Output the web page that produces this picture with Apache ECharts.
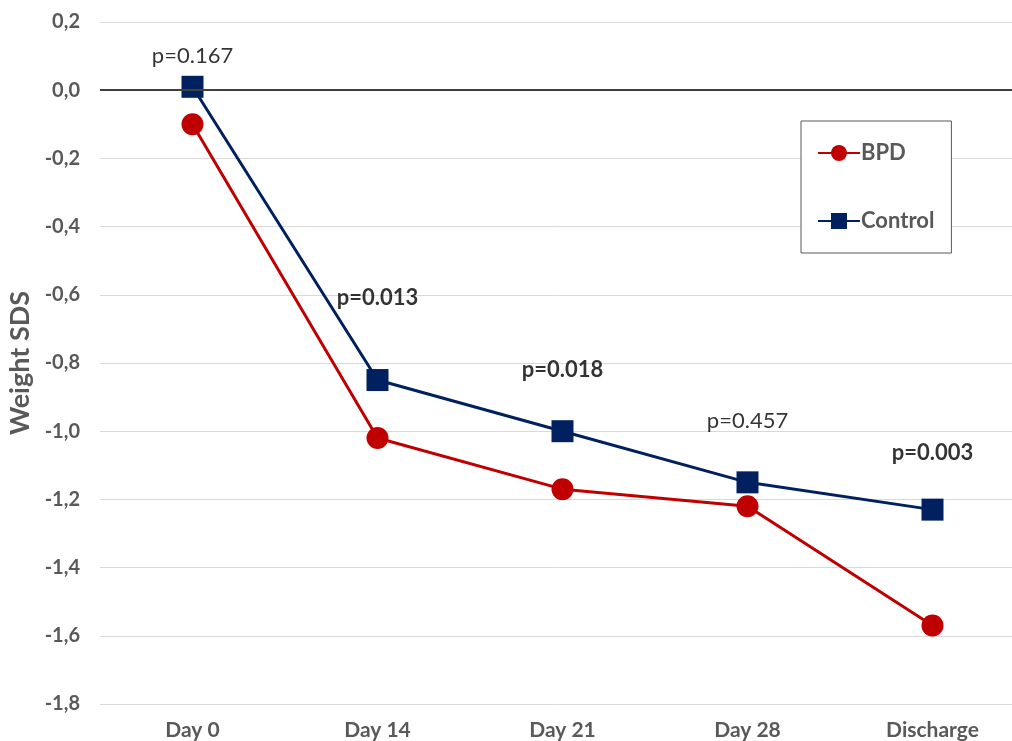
<!DOCTYPE html>
<html>
<head>
<meta charset="utf-8">
<script src="https://cdn.jsdelivr.net/npm/echarts@6/dist/echarts.min.js"></script>
<style>html,body{margin:0;padding:0;background:#fff}#c{width:1012px;height:741px}</style>
</head>
<body>
<div id="c"></div>
<script>
const categories = ['Day 0', 'Day 14', 'Day 21', 'Day 28', 'Discharge'];
const bpd = [-0.10, -1.02, -1.17, -1.22, -1.57];
const control = [0.01, -0.85, -1.00, -1.15, -1.23];
const pLabels = ['p=0.167', 'p=0.013', 'p=0.018', 'p=0.457', 'p=0.003'];
const pBold = [false, true, true, false, true];
const pLabelY = [0.10, -0.61, -0.82, -0.97, -1.065];
const yTicks = { min: -1.8, max: 0.2, interval: 0.2 };

const FONT = 'Lato';
const chart = echarts.init(document.getElementById('c'), null, { renderer: 'canvas' });
chart.setOption({
  animation: false,
  backgroundColor: '#fff',
  grid: { left: 100, right: -13, top: 22, bottom: 37, outerBoundsMode: 'none', containLabel: false },
  xAxis: {
    type: 'category',
    data: categories,
    boundaryGap: true,
    axisLine: { show: true, lineStyle: { color: '#d9d9d9', width: 1 } },
    axisTick: { show: false },
    axisLabel: { margin: 16, fontFamily: FONT, fontWeight: 'bold', fontSize: 21, color: '#595959' }
  },
  yAxis: {
    type: 'value',
    min: yTicks.min, max: yTicks.max, interval: yTicks.interval,
    name: 'Weight SDS',
    nameLocation: 'middle',
    nameGap: 65,
    nameTextStyle: { fontFamily: FONT, fontWeight: 'bold', fontSize: 27, color: '#595959' },
    axisLine: { show: false },
    axisTick: { show: false },
    axisLabel: {
      margin: 20, fontFamily: FONT, fontWeight: 'bold', fontSize: 20, color: '#595959',
      formatter: v => v.toFixed(1).replace('.', ',').replace('-0,0', '0,0')
    },
    splitLine: { lineStyle: { color: '#d9d9d9', width: 1 } }
  },
  legend: {
    orient: 'vertical',
    left: 801, top: 121,
    padding: [21, 17, 21, 16],
    itemGap: 46,
    itemWidth: 42, itemHeight: 20,
    borderColor: '#595959', borderWidth: 1,
    backgroundColor: '#fff',
    textStyle: { fontFamily: FONT, fontWeight: 'bold', fontSize: 22, color: '#595959', padding: [0, 0, 0, -4] },
    data: ['BPD', 'Control']
  },
  series: [
    {
      name: 'BPD', type: 'line', data: bpd,
      symbol: 'circle', symbolSize: 22,
      lineStyle: { color: '#C00000', width: 3 },
      itemStyle: { color: '#C00000' },
      z: 3,
      markLine: {
        silent: true, symbol: 'none', label: { show: false },
        lineStyle: { color: '#404040', width: 2, type: 'solid' },
        data: [{ yAxis: 0 }]
      }
    },
    {
      name: 'Control', type: 'line', data: control,
      symbol: 'rect', symbolSize: 22,
      lineStyle: { color: '#002060', width: 3 },
      itemStyle: { color: '#002060' },
      z: 4
    },
    {
      name: 'p', type: 'scatter', symbolSize: 0, silent: true,
      data: categories.map((c, i) => ({
        value: [c, pLabelY[i]],
        label: {
          show: true, position: 'inside', formatter: pLabels[i],
          fontFamily: FONT, fontSize: 22, color: '#000',
          fontWeight: pBold[i] ? 'bold' : 'normal'
        }
      }))
    }
  ]
});
</script>
</body>
</html>
